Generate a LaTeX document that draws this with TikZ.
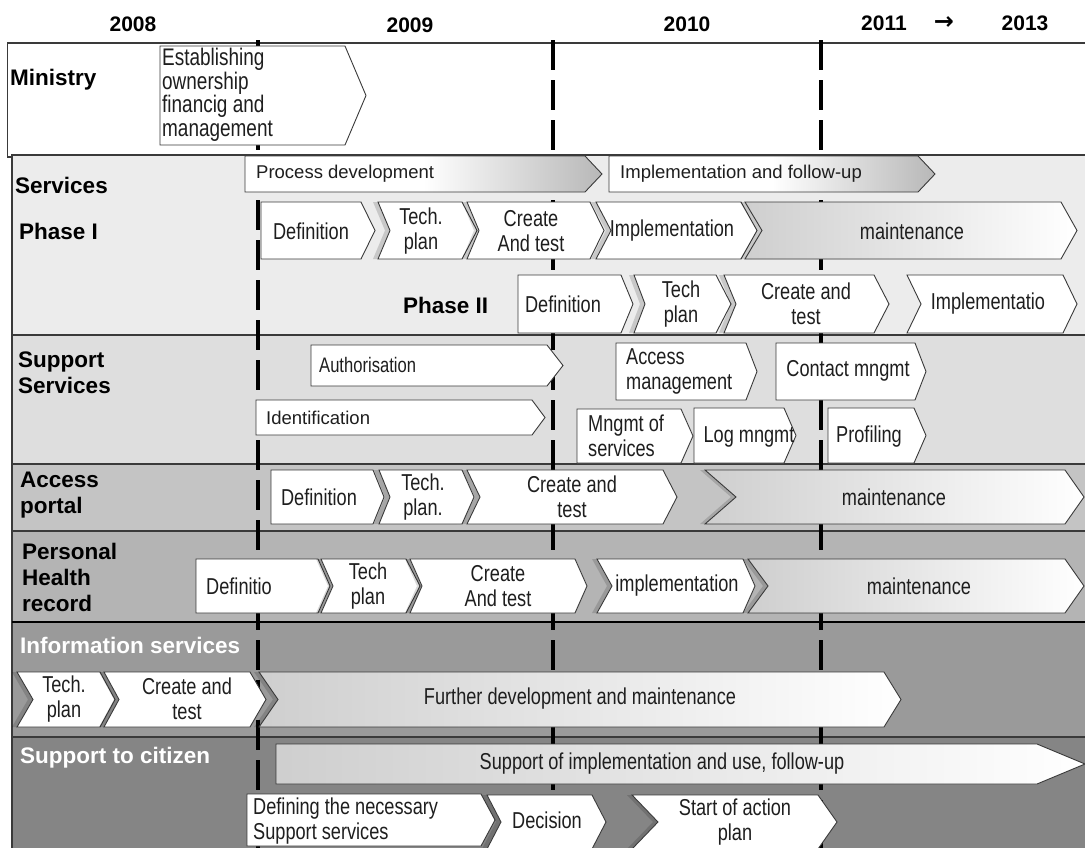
\documentclass[tikz,border=0pt]{standalone}
\usepackage{fontspec}
\setmainfont{Liberation Sans}
\newfontfamily\narrowfont[FakeStretch=0.79]{Liberation Sans}
\newfontfamily\arrowfont{DejaVu Sans}
\definecolor{bandA}{HTML}{ECECEC}
\definecolor{bandB}{HTML}{DEDEDE}
\definecolor{bandC}{HTML}{C4C4C4}
\definecolor{bandD}{HTML}{B4B4B4}
\definecolor{bandE}{HTML}{9A9A9A}
\definecolor{bandF}{HTML}{858585}
\definecolor{edge}{HTML}{3A3A3A}
\definecolor{ink}{HTML}{1E1E1E}
\tikzset{
  band/.style={draw=edge, line width=1.1pt},
  yeardash/.style={draw=black, line width=3.4pt, dash pattern=on 30pt off 10pt},
  chevbox/.style={draw=edge, line width=0.9pt, fill=white},
  chevfade/.style={draw=edge, line width=0.9pt, left color=black!19, right color=white},
  chevtofade/.style={draw=edge, line width=0.9pt, left color=white, right color=black!28, middle color=white},
  chevshadow/.style={fill=black, fill opacity=0.15},
  ctext/.style={font=\narrowfont\fontsize{23}{25}\selectfont, align=center, inner sep=0pt, text=ink},
  ltext/.style={ctext, align=left, anchor=west},
  wtext/.style={font=\fontsize{18.5}{22}\selectfont, inner sep=0pt, anchor=west, text=ink},
  rowlabel/.style={font=\bfseries\fontsize{22.5}{26}\selectfont, align=left, anchor=west, inner sep=0pt, text=black},
  yearlabel/.style={font=\bfseries\fontsize{21}{21}\selectfont, inner sep=0pt, text=black}
}
% chevron outline: [style] x-left, x-tip, y-top, y-bottom, notch depth, tip depth
\newcommand\chev[7][chevbox]{%
  \path[#1] (#2,#4) -- ({#3-#7},#4) -- (#3,{(#4+#5)/2}) -- ({#3-#7},#5)
    -- (#2,#5) -- ({#2+#6},{(#4+#5)/2}) -- cycle;}
% darker copy shifted left, showing as a wedge in front of the notch
\newcommand\chevshade[6]{%
  \begin{scope}[xshift=-5pt]\chev[chevshadow]{#1}{#2}{#3}{#4}{#5}{#6}\end{scope}}
\begin{document}
\begin{tikzpicture}[x=1pt,y=-1pt]
\useasboundingbox (0,0) rectangle (1085,847);
\clip (0,0) rectangle (1085,847);
\fill[white] (0,0) rectangle (1085,847);

% ---- year heading
\node[yearlabel] (y2008) at (133,24) {2008};
\node[yearlabel] (y2009) at (410,25) {2009};
\node[yearlabel] (y2010) at (687,24) {2010};
\node[yearlabel] (y2011) at (884,23) {2011};
\node[yearlabel, font=\arrowfont\bfseries\fontsize{24}{24}\selectfont] (yarrow) at (944,23) {→};
\node[yearlabel] (y2013) at (1025,23) {2013};

% ---- swim lanes
\path[band, fill=white] (7.6,43) rectangle (1095,157);
\path[band, fill=bandA] (12,155) rectangle (1095,335);
\path[band, fill=bandB] (12,335) rectangle (1095,464);
\path[band, fill=bandC] (12,464) rectangle (1095,531);
\path[band, fill=bandD] (12,531) rectangle (1095,622);
\path[band, fill=bandE] (12,622) rectangle (1095,737);
\path[band, fill=bandF] (12,737) rectangle (1095,860);
\draw[black, line width=2.4pt] (12,622) -- (1095,622);

% ---- year boundaries
\coordinate (d1t) at (258,40);  \coordinate (d1b) at (258,860);
\coordinate (d2t) at (553,40);  \coordinate (d2b) at (553,860);
\coordinate (d3t) at (821,40);  \coordinate (d3b) at (821,860);
\draw[yeardash] (d1t) -- (d1b);
\draw[yeardash] (d2t) -- (d2b);
\draw[yeardash] (d3t) -- (d3b);

% ---- Ministry
\chev{160}{366}{46}{145}{0}{21}

% ---- Services
\chev[chevtofade]{245}{602}{156}{192}{0}{17}
\chev[chevtofade]{609}{935}{156}{192}{0}{17}
% phase I
\chev{261}{375}{202}{259}{0}{14}
\chevshade{378}{477}{202}{259}{12}{15}
\chev{378}{477}{202}{259}{12}{15}
\chevshade{467}{604}{202}{259}{12}{14}
\chev{467}{604}{202}{259}{12}{14}
\chevshade{596}{757}{202}{259}{15}{16}
\chev{596}{757}{202}{259}{15}{16}
\chevshade{745}{1077}{202}{259}{17}{16}
\chev[chevfade]{745}{1077}{202}{259}{17}{16}
% phase II
\chev{518}{633}{275}{333}{0}{12}
\chevshade{634}{731}{275}{333}{11}{15}
\chev{634}{731}{275}{333}{11}{15}
\chevshade{724}{889}{275}{333}{12}{15}
\chev{724}{889}{275}{333}{12}{15}
\chev{907}{1077}{275}{333}{14}{14}

% ---- Support services
\chev{311}{563}{345}{386}{0}{16}
\chev{256}{545}{400}{435}{0}{13}
\chev{616}{757}{343}{400}{0}{11}
\chev{776}{926}{343}{400}{0}{11}
\chev{577}{693}{409}{463}{0}{12}
\chev{694}{796}{408}{463}{0}{12}
\chev{828}{926}{408}{463}{0}{12}

% ---- Access portal
\chev{271}{384}{470}{524}{0}{11}
\chevshade{379}{474}{470}{524}{11}{12}
\chev{379}{474}{470}{524}{11}{12}
\chevshade{467}{677}{470}{524}{13}{14}
\chev{467}{677}{470}{524}{13}{14}
\chevshade{705}{1084}{470}{524}{31}{19}
\chev[chevfade]{705}{1084}{470}{524}{31}{19}

% ---- Personal health record
\chev{196}{330}{559}{613}{0}{12}
\chevshade{321}{420}{559}{613}{12}{14}
\chev{321}{420}{559}{613}{12}{14}
\chevshade{410}{587}{559}{613}{12}{12}
\chev{410}{587}{559}{613}{12}{12}
\chevshade{597}{755}{559}{613}{15}{12}
\chev{597}{755}{559}{613}{15}{12}
\chevshade{748}{1084}{559}{613}{20}{19}
\chev[chevfade]{748}{1084}{559}{613}{20}{19}

% ---- Information services
\chevshade{17}{115}{672}{727}{16}{15}
\chev{17}{115}{672}{727}{16}{15}
\chevshade{104}{266}{672}{727}{15}{16}
\chev{104}{266}{672}{727}{15}{16}
\chevshade{259}{901}{672}{727}{19}{17}
\chev[chevfade]{259}{901}{672}{727}{19}{17}

% ---- Support to citizen
\chev[chevfade]{276}{1085}{744}{784}{0}{48}
\chev{247}{495}{794}{846}{0}{14}
\chevshade{487}{606}{795}{849}{14}{14}
\chev{487}{606}{795}{849}{14}{14}
\chevshade{632}{837}{795}{849}{26}{19}
\chev{632}{837}{795}{849}{26}{19}

% ---- lane titles
\node[rowlabel] (lMin) at (10,80) {Ministry};
\node[rowlabel] (lSrv) at (15,185) {Services};
\node[rowlabel] (lPh1) at (19,231) {Phase I};
\node[rowlabel] (lPh2) at (403,305) {Phase II};
\node[rowlabel] (lSup) at (18,373) {Support\\Services};
\node[rowlabel] (lAcc) at (20,495) {Access\\portal};
\node[rowlabel] (lPhr) at (22,577) {Personal\\Health\\record};
\node[rowlabel, text=white] (lInf) at (20,645) {Information services};
\node[rowlabel, text=white] (lCit) at (20,758) {Support to citizen};

% ---- activity texts
\node[ltext, font=\narrowfont\fontsize{24}{23.5}\selectfont] (tMin) at (162,95)
  {Establishing\\ownership\\financig and\\management};
\node[wtext] (tProc) at (256,174) {Process development};
\node[wtext] (tImpl) at (620,174) {Implementation and follow-up};

\node[ctext] (p1def) at (311,231) {Definition};
\node[ctext] (p1tech) at (421,231) {Tech.\\plan};
\node[ctext] (p1create) at (531,231) {Create\\And test};
\node[ctext] (p1impl) at (672,231) {Implementation};
\node[ctext] (p1maint) at (912,231) {maintenance};

\node[ctext] (p2def) at (563,304) {Definition};
\node[ctext] (p2tech) at (681,304) {Tech\\plan};
\node[ctext] (p2create) at (806,304) {Create and\\test};
\node[ctext] (p2impl) at (988,304) {Implementatio};

\node[ltext, font=\narrowfont\fontsize{21}{24}\selectfont] (sAuth) at (319,365) {Authorisation};
\node[wtext, font=\fontsize{18.5}{22}\selectfont] (sIdent) at (266,418) {Identification};
\node[ltext] (sAcc) at (626,371) {Access\\management};
\node[ctext] (sCont) at (848,371) {Contact mngmt};
\node[ltext] (sMng) at (588,436) {Mngmt of\\services};
\node[ctext] (sLog) at (749,437) {Log mngmt};
\node[ctext] (sProf) at (869,437) {Profiling};

\node[ctext] (adef) at (319,497) {Definition};
\node[ctext] (atech) at (423,497) {Tech.\\plan.};
\node[ctext] (acreate) at (572,497) {Create and\\test};
\node[ctext] (amaint) at (894,497) {maintenance};

\node[ltext] (hdef) at (206,586) {Definitio};
\node[ctext] (htech) at (368,586) {Tech\\plan};
\node[ctext] (hcreate) at (498,586) {Create\\And test};
\node[ctext] (himpl) at (677,586) {implementation};
\node[ctext] (hmaint) at (919,586) {maintenance};

\node[ctext] (itech) at (64,699) {Tech.\\plan};
\node[ctext] (icreate) at (187,699) {Create and\\test};
\node[ctext] (ifurther) at (580,699) {Further development and maintenance};

\node[ctext] (cSup) at (662,764) {Support of implementation and use, follow-up};
\node[ltext] (cDef) at (253,821) {Defining the necessary\\Support services};
\node[ctext] (cDec) at (547,820) {Decision};
\node[ctext] (cStart) at (735,822) {Start of action\\plan};
\end{tikzpicture}
\end{document}
